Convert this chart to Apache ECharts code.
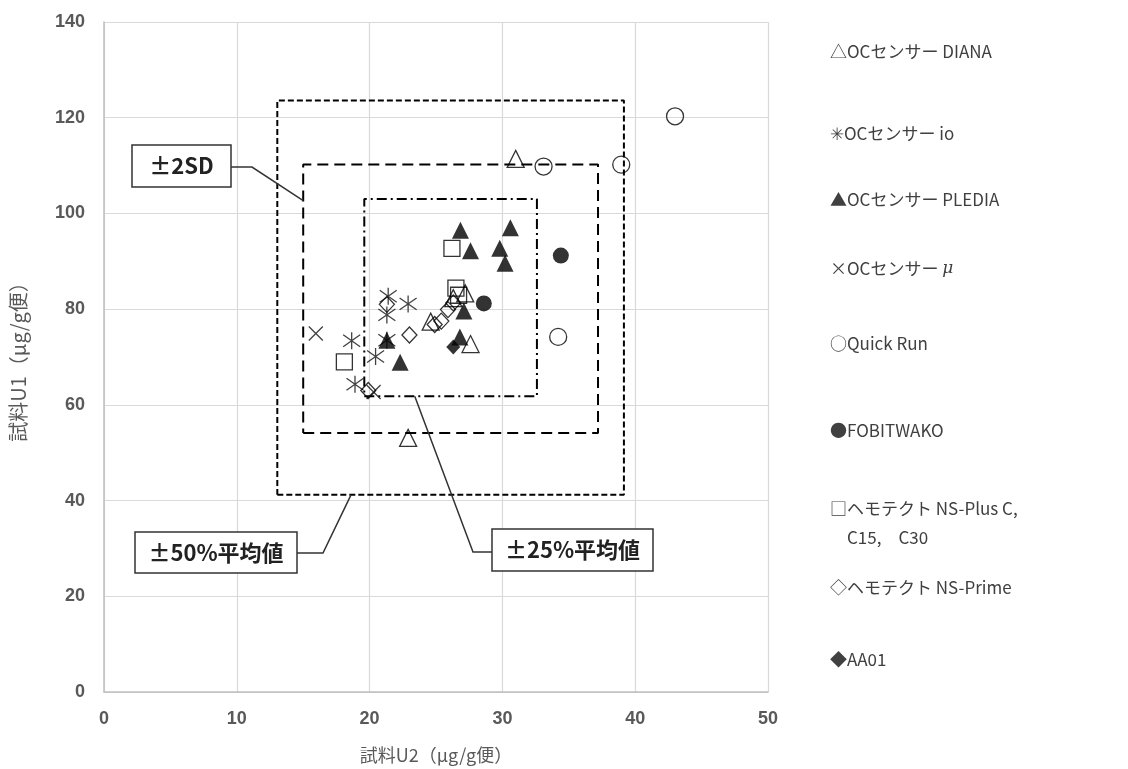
<!DOCTYPE html>
<html>
<head>
<meta charset="utf-8">
<script src="https://cdn.jsdelivr.net/npm/echarts@6/dist/echarts.min.js"></script>
<style>
html,body{margin:0;padding:0;background:#fff;}
#chart{width:1128px;height:769px;}
</style>
</head>
<body>
<div id="chart"></div>
<script>
// ---- data ----
const seriesNames = ['OCセンサー DIANA','OCセンサー io','OCセンサー PLEDIA','OCセンサー μ','Quick Run','FOBITWAKO','ヘモテクト NS-Plus C, C15, C30','ヘモテクト NS-Prime','AA01'];
const legendTexts = ['△OCセンサー DIANA','✳OCセンサー io','▲OCセンサー PLEDIA','×OCセンサー {i|μ}','○Quick Run','●FOBITWAKO','□ヘモテクト NS-Plus C,\n　C15,　C30','◇ヘモテクト NS-Prime','◆AA01'];
const dianaData  = [[31.0,111.4],[22.9,53.1],[27.6,72.7],[27.2,83.3],[24.6,77.4],[26.3,82.3]];
const ioData     = [[21.4,82.7],[22.9,81.1],[21.3,78.8],[18.65,73.4],[21.3,73.5],[20.45,70.1],[18.9,64.3]];
const pslediaData= [[26.84,96.5],[30.6,97.0],[27.6,92.2],[29.8,92.7],[30.2,89.6],[27.1,79.6],[26.8,74.2],[21.3,73.5],[22.3,68.9]];
const muData     = [[15.95,74.9],[20.3,62.7]];
const quickData  = [[43.0,120.3],[33.1,109.8],[38.95,110.2],[34.2,74.2]];
const fobitData  = [[34.4,91.2],[28.6,81.2]];
const plusData   = [[18.1,69.0],[26.2,92.7],[26.5,84.4],[26.7,82.9]];
const primeData  = [[21.3,81.0],[23.0,74.6],[24.9,76.8],[25.4,77.5],[25.9,79.9],[26.3,81.3],[19.9,63.0]];
const aa01Data   = [[26.3,72.1]];
// ranges: [xmin, xmax], [ymin, ymax]
const range50X = [13.05, 39.15], range50Y = [41.2, 123.6];
const range2sdX = [15.0, 37.2],  range2sdY = [54.1, 110.2];
const range25X = [19.6, 32.6],   range25Y = [61.8, 103.0];
const xAxisMin = 0, xAxisMax = 50, xAxisStep = 10;
const yAxisMin = 0, yAxisMax = 140, yAxisStep = 20;
const annoLabels = ['±2SD','±50%平均値','±25%平均値'];

function rectPath(rx, ry){
  return [[rx[0],ry[0]],[rx[1],ry[0]],[rx[1],ry[1]],[rx[0],ry[1]],[rx[0],ry[0]]];
}

const ASTER = 'path://M1.5,1.5L8.5,8.5M8.5,1.5L1.5,8.5M5,0L5,10';
const CROSS = 'path://M0,0L10,10M10,0L0,10';
const open = {color:'rgba(0,0,0,0)', borderColor:'#000', borderWidth:1.3};
const filled = {color:'#000', borderColor:'#000', borderWidth:0};
const lineSym = {color:'rgba(0,0,0,0)', borderColor:'#111', borderWidth:1.3};

const jp = '"Noto Sans CJK JP", "Noto Sans", sans-serif';

const chart = echarts.init(document.getElementById('chart'));

function boxLine(name, data, type){
  return {name:name, type:'line', data:data, symbol:'none', silent:true, z:1,
    lineStyle:{color:'#000', width:2, type:type}, animation:false};
}

const option = {
  backgroundColor:'#fff',
  animation:false,
  grid:{left:101, right:360, top:22, bottom:72, containLabel:false},
  xAxis:{type:'value', min:xAxisMin, max:xAxisMax, interval:xAxisStep,
    name:'試料U2（μg/g便）', nameLocation:'middle', nameGap:54,
    nameTextStyle:{fontFamily:jp, fontSize:18, color:'#595959'},
    axisLine:{show:true, lineStyle:{color:'#bfbfbf', width:1.5}},
    axisTick:{show:false},
    axisLabel:{fontFamily:'"Liberation Sans", Arial, sans-serif', fontSize:18, fontWeight:'bold', color:'#595959', margin:18},
    splitLine:{show:true, lineStyle:{color:'#d9d9d9', width:1.2}}},
  yAxis:{type:'value', min:yAxisMin, max:yAxisMax, interval:yAxisStep,
    name:'試料U1（μg/g便）', nameLocation:'middle', nameGap:76, nameRotate:90,
    nameTextStyle:{fontFamily:jp, fontSize:20, color:'#595959'},
    axisLine:{show:true, lineStyle:{color:'#bfbfbf', width:1.5}},
    axisTick:{show:false},
    axisLabel:{fontFamily:'"Liberation Sans", Arial, sans-serif', fontSize:18, fontWeight:'bold', color:'#595959', margin:19},
    splitLine:{show:true, lineStyle:{color:'#d9d9d9', width:1.2}}},
  series:[
    boxLine('±50%', rectPath(range50X, range50Y), [6,3]),
    boxLine('±2SD', rectPath(range2sdX, range2sdY), [11,6]),
    boxLine('±25%', rectPath(range25X, range25Y), [10,4,2,4]),
    {name:seriesNames[0], type:'scatter', data:dianaData, symbol:'triangle', symbolSize:17, itemStyle:open, z:3},
    {name:seriesNames[1], type:'scatter', data:ioData, symbol:ASTER, symbolSize:17, itemStyle:lineSym, z:3},
    {name:seriesNames[2], type:'scatter', data:pslediaData, symbol:'triangle', symbolSize:17, itemStyle:filled, z:3},
    {name:seriesNames[3], type:'scatter', data:muData, symbol:CROSS, symbolSize:14, itemStyle:lineSym, z:3},
    {name:seriesNames[4], type:'scatter', data:quickData, symbol:'circle', symbolSize:17, itemStyle:open, z:3},
    {name:seriesNames[5], type:'scatter', data:fobitData, symbol:'circle', symbolSize:16, itemStyle:filled, z:3},
    {name:seriesNames[6], type:'scatter', data:plusData, symbol:'rect', symbolSize:16, itemStyle:open, z:3},
    {name:seriesNames[7], type:'scatter', data:primeData, symbol:'diamond', symbolSize:[15,16], itemStyle:open, z:3},
    {name:seriesNames[8], type:'scatter', data:aa01Data, symbol:'diamond', symbolSize:[14,15], itemStyle:filled, z:3}
  ]
};
chart.setOption(option);

// ---- annotations & legend (graphic) ----
const legendY = [48,130,196,265,340,427,519,584,656];
const graphics = [];
legendTexts.forEach((t,i)=>{
  graphics.push({type:'text', left:830, top:legendY[i]-11 - (i===6?14:0),
    style:{text:t, fill:'#404040', font:'17px '+jp, lineHeight:29,
      rich:{i:{fontStyle:'italic', fontFamily:'"DejaVu Serif", serif', fontSize:17, fill:'#404040'}}}});
});

function px(p){ return chart.convertToPixel({gridIndex:0}, p); }
const a2sd = px([range2sdX[0], 102.7]);
const a50 = px([18.6, range50Y[0]]);
const a25 = px([23.4, range25Y[0]]);

function annoBox(x,y,w,h,text){
  graphics.push({type:'rect', shape:{x:x,y:y,width:w,height:h}, style:{fill:'#fff', stroke:'#333', lineWidth:1.5}, z:10});
  graphics.push({type:'text', x:x+w/2, y:y+h/2, style:{text:text, fill:'#222', font:'bold 22px '+jp, align:'center', verticalAlign:'middle'}, z:11});
}
graphics.push({type:'polyline', shape:{points:[[231,167],[252,167],a2sd]}, style:{stroke:'#333', lineWidth:1.5, fill:null}, z:9});
graphics.push({type:'polyline', shape:{points:[[297,553],[323,553],a50]}, style:{stroke:'#333', lineWidth:1.5, fill:null}, z:9});
graphics.push({type:'polyline', shape:{points:[[492,552],[473,552],a25]}, style:{stroke:'#333', lineWidth:1.5, fill:null}, z:9});
annoBox(132,145,99,42,annoLabels[0]);
annoBox(135,532,162,41,annoLabels[1]);
annoBox(492,529,161,42,annoLabels[2]);

chart.setOption({graphic:graphics});
</script>
</body>
</html>
